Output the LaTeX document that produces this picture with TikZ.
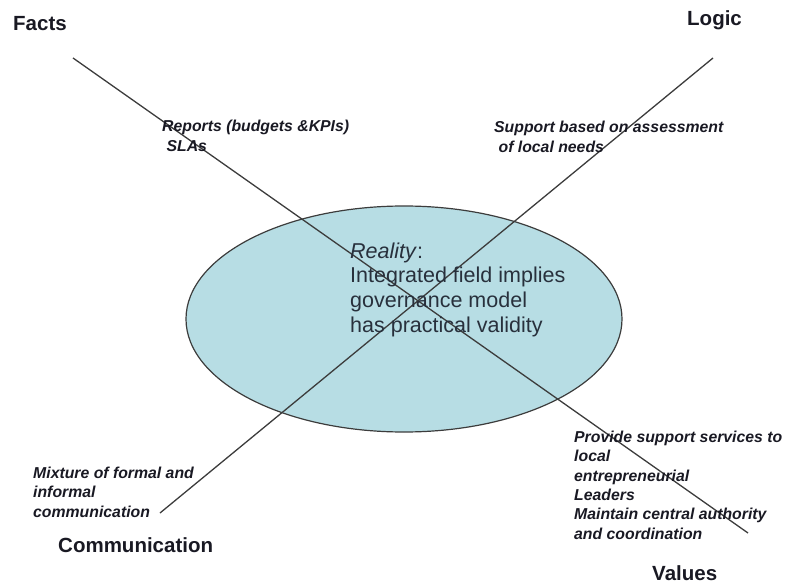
\documentclass[tikz,border=0pt]{standalone}
\usepackage{fontspec}
\setmainfont{Liberation Sans}
\definecolor{ellfill}{RGB}{183,221,228}
\definecolor{linegray}{RGB}{60,60,60}
\definecolor{txtmain}{RGB}{40,48,60}
\definecolor{txtdark}{RGB}{25,25,35}
\begin{document}
\begin{tikzpicture}[x=1bp,y=-1bp,
  axislabel/.style={inner sep=0pt, anchor=base west, text=txtdark, font=\fontsize{20.5bp}{24bp}\selectfont\bfseries},
  note/.style={inner sep=0pt, anchor=base west, align=left, text=txtdark, font=\fontsize{15.8bp}{19.3bp}\selectfont\bfseries\itshape},
  crossline/.style={draw=linegray, line width=1.3bp}]
\useasboundingbox (0,0) rectangle (795,584);
% ellipse
\fill[ellfill] (404,319) ellipse [x radius=218, y radius=113];
\draw[linegray, line width=1.2bp] (404,319) ellipse [x radius=218, y radius=113];
% end points
\coordinate (f1) at (73,58);
\coordinate (v1) at (748,533);
\coordinate (l1) at (713,58);
\coordinate (c1) at (160,513);
\draw[crossline] (f1) -- (v1);
\draw[crossline] (l1) -- (c1);
% main text (anchor at baseline of last line)
\node[inner sep=0pt, anchor=base west, align=left, text=txtmain,
  font=\fontsize{21.5bp}{24.6bp}\selectfont] (reality) at (350,332)
  {\textit{Reality}:\\Integrated field implies\\governance model\\has practical validity};
% axis labels
\node[axislabel] (facts) at (13,31) {Facts};
\node[axislabel] (logic) at (687,26) {Logic};
\node[axislabel] (comm) at (58,552) {Communication};
\node[axislabel] (values) at (652,580) {Values};
% notes (anchor at baseline of last line)
\node[note] (reports) at (162,152) {Reports (budgets \&KPIs)\\[0.7bp]\ SLAs};
\node[note] (support) at (494,153) {Support based on assessment\\[0.7bp]\ of local needs};
\node[note] (mixture) at (33,517) {Mixture of formal and\\informal\\communication};
\node[note] (provide) at (574,539) {Provide support services to\\local\\entrepreneurial\\Leaders\\Maintain central authority\\and coordination};
\end{tikzpicture}
\end{document}
